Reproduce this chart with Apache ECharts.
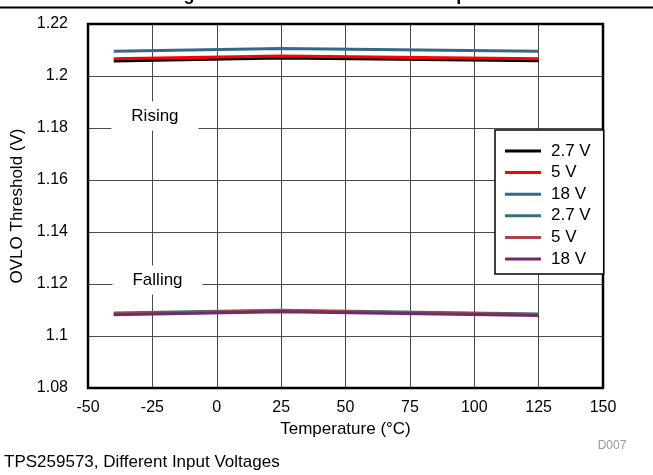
<!DOCTYPE html>
<html>
<head>
<meta charset="utf-8">
<script src="https://cdn.jsdelivr.net/npm/echarts@6/dist/echarts.min.js"></script>
<style>
html,body{margin:0;padding:0;background:#fff;}
#chart{width:653px;height:475px;}
</style>
</head>
<body>
<div id="chart"></div>
<script>
// ---- data ----
const temperatures = [-40, 25, 125];
const rising27V = [1.2058, 1.2069, 1.2059];
const rising5V  = [1.2066, 1.2077, 1.2066];
const rising18V = [1.2095, 1.2106, 1.2095];
const falling27V = [1.1088, 1.1099, 1.1085];
const falling5V  = [1.1086, 1.1097, 1.1083];
const falling18V = [1.1082, 1.1093, 1.1079];
const legendLabels = ['2.7 V', '5 V', '18 V', '2.7 V', '5 V', '18 V'];
const seriesColors = ['#000000', '#ff0000', '#356a86', '#2f7775', '#a84646', '#6e2c6c'];
const xTicks = {min: -50, max: 150, interval: 25};
const yTicks = {min: 1.08, max: 1.22, interval: 0.02};

const seriesData = [rising27V, rising5V, rising18V, falling27V, falling5V, falling18V];
const seriesNames = ['R 2.7 V', 'R 5 V', 'R 18 V', 'F 2.7 V', 'F 5 V', 'F 18 V'];
const nameToLabel = {};
seriesNames.forEach((n, i) => nameToLabel[n] = legendLabels[i]);

const FONT = '"Liberation Sans", Arial, sans-serif';
const chart = echarts.init(document.getElementById('chart'));

const option = {
  animation: false,
  backgroundColor: '#fff',
  grid: {left: 88, right: 50, top: 24, bottom: 87, show: true, borderColor: '#000', borderWidth: 2.5, backgroundColor: 'transparent', z: 3},
  xAxis: {
    type: 'value', min: xTicks.min, max: xTicks.max, interval: xTicks.interval,
    name: 'Temperature (°C)', nameLocation: 'middle', nameGap: 30,
    nameTextStyle: {fontFamily: FONT, fontSize: 17, color: '#000'},
    axisLine: {show: false}, axisTick: {show: false},
    axisLabel: {fontFamily: FONT, fontSize: 16, color: '#000', margin: 12},
    splitLine: {show: true, lineStyle: {color: '#4a4a4a', width: 1}}
  },
  yAxis: {
    type: 'value', min: yTicks.min, max: yTicks.max, interval: yTicks.interval,
    name: 'OVLO Threshold (V)', nameLocation: 'middle', nameGap: 60,
    nameTextStyle: {fontFamily: FONT, fontSize: 17, color: '#000'},
    axisLine: {show: false}, axisTick: {show: false},
    axisLabel: {fontFamily: FONT, fontSize: 16, color: '#000', margin: 20},
    splitLine: {show: true, lineStyle: {color: '#4a4a4a', width: 1}}
  },
  legend: {
    orient: 'vertical', left: 495, top: 130,
    padding: [11, 13, 5, 10], itemGap: 1.6,
    itemWidth: 36, itemHeight: 3, icon: 'rect',
    backgroundColor: '#fff', borderColor: '#000', borderWidth: 1.5, borderRadius: 0,
    data: seriesNames,
    formatter: n => nameToLabel[n],
    textStyle: {fontFamily: FONT, fontSize: 17, lineHeight: 20, color: '#000', padding: [0, 0, 0, 5]},
    z: 10
  },
  series: seriesData.map((d, i) => ({
    name: seriesNames[i], type: 'line', symbol: 'none',
    data: temperatures.map((t, j) => [t, d[j]]),
    lineStyle: {color: seriesColors[i], width: 3},
    itemStyle: {color: seriesColors[i]},
    z: 2 + i
  }))
};
chart.setOption(option);

function annot(text, x, y) {
  const p = chart.convertToPixel({gridIndex: 0}, [x, y]);
  return {type: 'text', x: p[0], y: p[1], z: 5,
    style: {text: text, fontFamily: FONT, fontSize: 17, fill: '#000', align: 'center', verticalAlign: 'middle',
      backgroundColor: '#fff', padding: [7, 20, 5, 20]}};
}
chart.setOption({graphic: [
  {type: 'line', shape: {x1: 0, y1: 7.5, x2: 653, y2: 7.5}, style: {stroke: '#000', lineWidth: 2}},
  {type: 'text', x: 348, y: 4, style: {text: 'Figure 7. OVLO Threshold vs Temperature', fontFamily: FONT, fontSize: 18, fontWeight: 'bold', fill: '#000', align: 'center', verticalAlign: 'bottom'}},
  annot('Rising', -24, 1.1846),
  annot('Falling', -23, 1.1215),
  {type: 'text', x: 612, y: 446, style: {text: 'D007', fontFamily: FONT, fontSize: 12, fill: '#9a9a9a', align: 'center', verticalAlign: 'middle'}},
  {type: 'text', x: 4, y: 462, style: {text: 'TPS259573, Different Input Voltages', fontFamily: FONT, fontSize: 17, fill: '#000', align: 'left', verticalAlign: 'middle'}}
]});
</script>
</body>
</html>
